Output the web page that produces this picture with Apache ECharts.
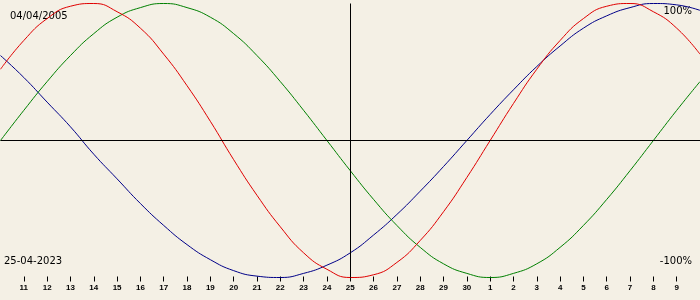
<!DOCTYPE html>
<html>
<head>
<meta charset="utf-8">
<script src="https://cdn.jsdelivr.net/npm/echarts@6/dist/echarts.min.js"></script>
<style>
html,body{margin:0;padding:0;background:#f4f0e5;}
#c{width:700px;height:300px;}
</style>
</head>
<body>
<div id="c"></div>
<script>
// Day-of-month tick labels, 10 April -> 10 May 2023
var categories = ['10','11','12','13','14','15','16','17','18','19','20','21','22','23','24','25','26','27','28','29','30','1','2','3','4','5','6','7','8','9','10'];
// Biorhythm values (fraction of 100%) read per day
var physical = [0.52,0.73,0.89,0.98,1.00,0.94,0.82,0.63,0.40,0.14,-0.14,-0.40,-0.63,-0.82,-0.94,-1.00,-0.98,-0.89,-0.73,-0.52,-0.27,0.00,0.27,0.52,0.73,0.89,0.98,1.00,0.94,0.82,0.63];
var emotional = [0.00,0.22,0.43,0.62,0.78,0.90,0.97,1.00,0.97,0.90,0.78,0.62,0.43,0.22,0.00,-0.22,-0.43,-0.62,-0.78,-0.90,-0.97,-1.00,-0.97,-0.90,-0.78,-0.62,-0.43,-0.22,0.00,0.22,0.43];
var intellectual = [0.62,0.46,0.28,0.10,-0.10,-0.28,-0.46,-0.62,-0.76,-0.87,-0.95,-0.99,-1.00,-0.97,-0.91,-0.82,-0.69,-0.54,-0.37,-0.19,0.00,0.19,0.37,0.54,0.69,0.82,0.91,0.97,1.00,0.99,0.95];
var birthDate = '04/04/2005';
var currentDate = '25-04-2023';
var currentDay = '25';
var topLabel = '100%';
var bottomLabel = '-100%';

var chart = echarts.init(document.getElementById('c'), null, {renderer:'canvas'});
chart.setOption({
  backgroundColor:'#f4f0e5',
  animation:false,
  grid:{left:0.5, top:3.5, width:700, height:274},
  xAxis:{
    type:'category', data:categories, boundaryGap:false, offset:-1,
    axisLine:{show:false, onZero:false},
    axisTick:{show:true, length:5, lineStyle:{color:'#000'}, interval:function(i){return i>0 && i<30;}},
    axisLabel:{interval:function(i){return i>0 && i<30;}, margin:7, color:'#000', fontFamily:'Liberation Sans', fontSize:8, fontWeight:'bold'},
    splitLine:{show:false}
  },
  yAxis:{type:'value', min:-1, max:1, show:false, splitLine:{show:false}},
  series:[
    {type:'line', data:physical, smooth:true, symbol:'none', clip:false, lineStyle:{width:1,color:'#e00000'}, itemStyle:{color:'#e00000'}, z:3,
     markLine:{silent:true, symbol:'none', label:{show:false}, lineStyle:{color:'#000', width:1, type:'solid'},
       data:[{yAxis:0},{xAxis:currentDay}]}},
    {type:'line', data:emotional, smooth:true, symbol:'none', clip:false, lineStyle:{width:1,color:'#008000'}, itemStyle:{color:'#008000'}, z:2},
    {type:'line', data:intellectual, smooth:true, symbol:'none', clip:false, lineStyle:{width:1,color:'#000088'}, itemStyle:{color:'#000088'}, z:1}
  ],
  graphic:[
    {type:'text', left:10, top:11, style:{text:birthDate, fill:'#000', font:'10px "DejaVu Sans"'}},
    {type:'text', left:4, top:256, style:{text:currentDate, fill:'#000', font:'10px "DejaVu Sans"'}},
    {type:'text', right:8, top:6, style:{text:topLabel, fill:'#000', font:'10px "DejaVu Sans"'}},
    {type:'text', right:8, top:256, style:{text:bottomLabel, fill:'#000', font:'10px "DejaVu Sans"'}}
  ]
});
</script>
</body>
</html>
